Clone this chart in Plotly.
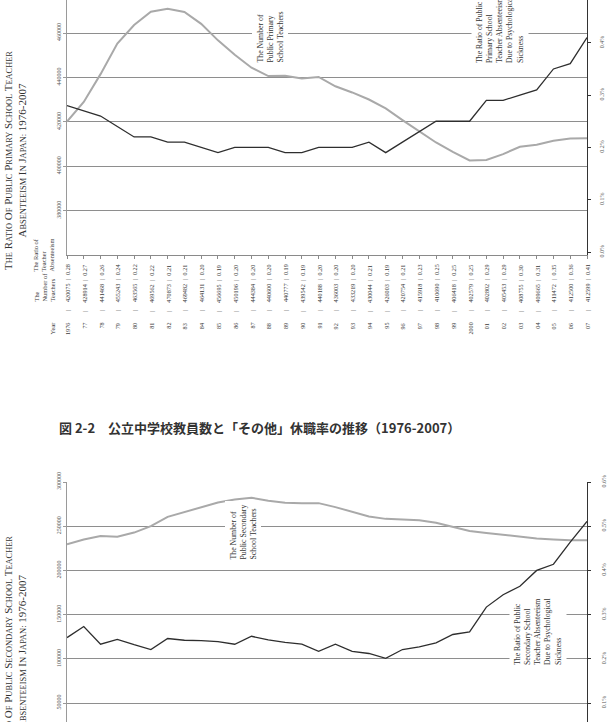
import plotly.graph_objects as go

years = list(range(1976, 2008))
year_labels = ["1976", "77", "78", "79", "80", "81", "82", "83", "84", "85", "86",
               "87", "88", "89", "90", "91", "92", "93", "94", "95", "96", "97",
               "98", "99", "2000", "01", "02", "03", "04", "05", "06", "07"]
primary_teachers = [420075, 428914, 441468, 455243, 463565, 469562, 470873, 469482,
                    464131, 456695, 450196, 444384, 440600, 440777, 439542, 440188,
                    436003, 433219, 430044, 426003, 420754, 415918, 410690, 406418,
                    402579, 402802, 405453, 408755, 409665, 411472, 412500, 412599]
primary_ratio = [0.28, 0.27, 0.26, 0.24, 0.22, 0.22, 0.21, 0.21, 0.20, 0.19, 0.20,
                 0.20, 0.20, 0.19, 0.19, 0.20, 0.20, 0.20, 0.21, 0.19, 0.21, 0.23,
                 0.25, 0.25, 0.25, 0.29, 0.29, 0.30, 0.31, 0.35, 0.36, 0.41]
secondary_teachers = [229500, 235000, 239000, 238000, 242800, 250000, 260600, 265900,
                      271500, 276800, 280200, 282200, 278800, 276500, 276100, 276100,
                      271600, 266000, 261000, 258300, 257900, 256800, 253800, 249300,
                      244700, 242400, 240500, 238300, 236000, 235000, 234000, 234000]
secondary_ratio = [0.248, 0.273, 0.233, 0.244, 0.232, 0.221, 0.246, 0.242, 0.241,
                   0.239, 0.233, 0.251, 0.243, 0.237, 0.233, 0.217, 0.233, 0.217,
                   0.212, 0.201, 0.221, 0.227, 0.236, 0.255, 0.261, 0.317, 0.345,
                   0.364, 0.400, 0.414, 0.464, 0.511]

primary_left_ticks = [380000, 400000, 420000, 440000, 460000]
primary_right_ticks = [0.0, 0.1, 0.2, 0.3, 0.4]
secondary_left_ticks = [50000, 100000, 150000, 200000, 250000, 300000]
secondary_right_ticks = [0.1, 0.2, 0.3, 0.4, 0.5, 0.6]

W, H = 612, 722


def px(x):
    return x / W


def py(y):
    return 1 - y / H


SERIF = "Liberation Serif"
GRID = "#8e8e8e"
LIGHT = "#a9a9a9"
DARK = "#2e2e2e"
TXT = "#3a3a3a"


def smallcaps(text, small=8.4):
    out = []
    for word in text.split(" "):
        if word[0].isalpha():
            out.append(word[0] + "<span style='font-size:%spx'>%s</span>" % (small, word[1:].upper()))
        else:
            out.append(word)
    return " ".join(out)


fig = go.Figure()
fig.add_trace(go.Scatter(x=years, y=primary_teachers, xaxis="x", yaxis="y", mode="lines",
                         line=dict(color=LIGHT, width=2)))
fig.add_trace(go.Scatter(x=years, y=primary_ratio, xaxis="x", yaxis="y2", mode="lines",
                         line=dict(color=DARK, width=1.3)))
fig.add_trace(go.Scatter(x=years, y=secondary_teachers, xaxis="x2", yaxis="y3", mode="lines",
                         line=dict(color=LIGHT, width=2)))
fig.add_trace(go.Scatter(x=years, y=secondary_ratio, xaxis="x2", yaxis="y4", mode="lines",
                         line=dict(color=DARK, width=1.3)))

tickfont = dict(family=SERIF, size=6, color="#555")
fig.update_layout(
    width=W, height=H, margin=dict(l=0, r=0, t=0, b=0),
    paper_bgcolor="white", plot_bgcolor="white", showlegend=False,
    xaxis=dict(domain=[px(67), px(587)], range=[1976, 2007], anchor="y",
               showline=True, linecolor="#8a8a8a", linewidth=1, ticks="outside",
               tickcolor="#8a8a8a", ticklen=3, tick0=1976, dtick=1,
               showticklabels=False, showgrid=False, zeroline=False),
    yaxis=dict(domain=[py(255), 1], range=[360000, 474865], anchor="x",
               tickvals=primary_left_ticks, ticktext=[str(v) for v in primary_left_ticks],
               tickangle=-90, tickfont=tickfont, showgrid=True, gridcolor=GRID, gridwidth=1,
               showline=True, linecolor="#9a9a9a", ticks="outside", ticklen=3,
               tickcolor="#9a9a9a", zeroline=False, automargin=False),
    yaxis2=dict(overlaying="y", side="right", anchor="x", range=[-0.0057, 0.4818],
                tickvals=primary_right_ticks, ticktext=["%.1f%%" % v for v in primary_right_ticks],
                tickangle=-90, tickfont=tickfont, showgrid=False, showline=True,
                linecolor="#333", ticks="outside", ticklen=3, tickcolor="#333", zeroline=False,
                automargin=False, ticklabelstandoff=6),
    xaxis2=dict(domain=[px(67), px(587)], range=[1976, 2007], anchor="y3",
                showline=False, ticks="", showticklabels=False, showgrid=False, zeroline=False),
    yaxis3=dict(domain=[0, py(482)], range=[28500, 300010], anchor="x2",
                tickvals=secondary_left_ticks, ticktext=[str(v) for v in secondary_left_ticks],
                tickangle=-90, tickfont=tickfont, showgrid=True, gridcolor=GRID, gridwidth=1,
                showline=True, linecolor="#9a9a9a", ticks="outside", ticklen=3,
                tickcolor="#9a9a9a", zeroline=False, automargin=False),
    yaxis4=dict(overlaying="y3", side="right", anchor="x2", range=[0.057, 0.6001],
                tickvals=secondary_right_ticks, ticktext=["%.1f%%" % v for v in secondary_right_ticks],
                tickangle=-90, tickfont=tickfont, showgrid=False, showline=True,
                linecolor="#333", ticks="outside", ticklen=3, tickcolor="#333", zeroline=False,
                automargin=False, ticklabelstandoff=8),
)

ann = []
small = dict(family=SERIF, size=6.2, color=TXT)
# table under the primary chart
for yr, lab, num, rat in zip(years, year_labels, primary_teachers, primary_ratio):
    ann.append(dict(x=yr, xref="x", y=py(270), yref="paper", text="%.2f" % rat,
                    textangle=-90, showarrow=False, font=small, xanchor="center", yanchor="middle"))
    ann.append(dict(x=yr, xref="x", y=py(280), yref="paper", text="|",
                    textangle=-90, showarrow=False, font=small, xanchor="center", yanchor="middle"))
    ann.append(dict(x=yr, xref="x", y=py(293), yref="paper", text=str(num),
                    textangle=-90, showarrow=False, font=small, xanchor="center", yanchor="middle"))
    ann.append(dict(x=yr, xref="x", y=py(311), yref="paper", text="|",
                    textangle=-90, showarrow=False, font=small, xanchor="center", yanchor="middle"))
    ann.append(dict(x=yr, xref="x", y=py(321), yref="paper", text=lab,
                    textangle=-90, showarrow=False, font=small, xanchor="center", yanchor="top"))

hdr = dict(family=SERIF, size=6.4, color=TXT)
ann.append(dict(x=px(44), y=py(274), xref="paper", yref="paper",
                text="The Ratio of<br>Teacher<br>Absenteeism", align="left",
                textangle=-90, showarrow=False, font=hdr, xanchor="center", yanchor="bottom"))
ann.append(dict(x=px(44), y=py(304), xref="paper", yref="paper",
                text="The<br>Number of<br>Teachers", align="left",
                textangle=-90, showarrow=False, font=hdr, xanchor="center", yanchor="bottom"))
ann.append(dict(x=px(52), y=py(337), xref="paper", yref="paper", text="Year",
                textangle=-90, showarrow=False, font=hdr, xanchor="center", yanchor="bottom"))

# titles
tfont = dict(family=SERIF, size=11, color="#333")
ann.append(dict(x=px(15), y=py(161), xref="paper", yref="paper",
                text=smallcaps("THE RATIO OF PUBLIC PRIMARY SCHOOL TEACHER") + "<br>" +
                smallcaps("ABSENTEEISM IN JAPAN: 1976-2007"),
                textangle=-90, showarrow=False, font=tfont, align="center",
                xanchor="center", yanchor="middle"))
ann.append(dict(x=px(15), y=py(652), xref="paper", yref="paper",
                text=smallcaps("THE RATIO OF PUBLIC SECONDARY SCHOOL TEACHER") + "<br>" +
                smallcaps("ABSENTEEISM IN JAPAN: 1976-2007"),
                textangle=-90, showarrow=False, font=tfont, align="center",
                xanchor="center", yanchor="middle"))

# in-chart labels
lfont = dict(family=SERIF, size=7.8, color="#333")
ann.append(dict(x=px(270), y=py(67), xref="paper", yref="paper",
                text="The Number of<br>Public Primary<br>School Teachers", align="left",
                textangle=-90, showarrow=False, font=lfont, bgcolor="white", borderpad=3,
                xanchor="center", yanchor="bottom"))
ann.append(dict(x=px(500), y=py(67), xref="paper", yref="paper",
                text="The Ratio of Public<br>Primary School<br>Teacher Absenteeism<br>Due to Psychological<br>Sickness",
                align="left", textangle=-90, showarrow=False, font=lfont, bgcolor="white",
                borderpad=3, xanchor="center", yanchor="bottom"))
ann.append(dict(x=px(243), y=py(564), xref="paper", yref="paper",
                text="The Number of<br>Public Secondary<br>School Teachers", align="left",
                textangle=-90, showarrow=False, font=lfont, bgcolor="white", borderpad=3,
                xanchor="center", yanchor="bottom"))
ann.append(dict(x=px(538), y=py(669), xref="paper", yref="paper",
                text="The Ratio of Public<br>Secondary School<br>Teacher Absenteeism<br>Due to Psychological<br>Sickness",
                align="left", textangle=-90, showarrow=False, font=lfont, bgcolor="white",
                borderpad=3, xanchor="center", yanchor="bottom"))

# caption
ann.append(dict(x=px(259), y=py(427), xref="paper", yref="paper",
                text="<b>図 2-2　公立中学校教員数と「その他」休職率の推移（1976-2007）</b>",
                showarrow=False, font=dict(family="Noto Sans CJK JP", size=13, color="#333"),
                xanchor="center", yanchor="middle"))

fig.update_layout(annotations=ann)
fig.write_html("out.html")
